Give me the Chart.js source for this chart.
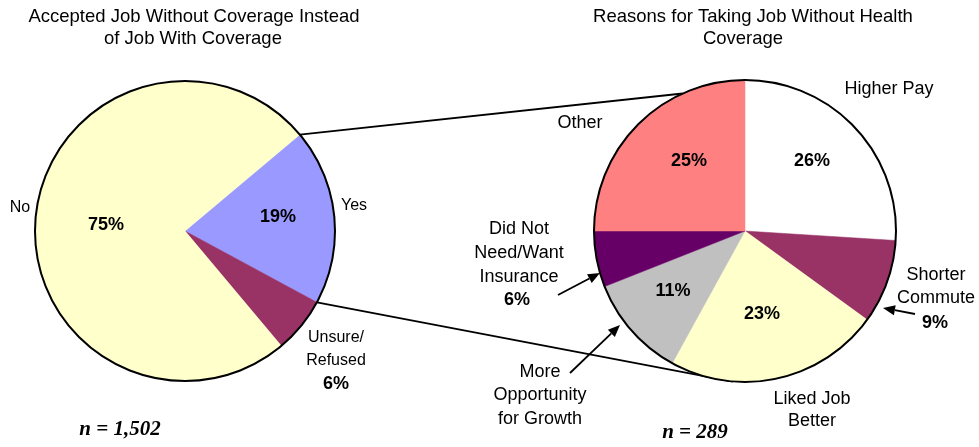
<!DOCTYPE html>
<html>
<head>
<meta charset="utf-8">
<script src="https://cdn.jsdelivr.net/npm/chart.js@4"></script>
<style>
  html, body { margin: 0; padding: 0; background: #ffffff; }
  #wrap { position: relative; width: 979px; height: 447px; overflow: hidden; }
  canvas { position: absolute; left: 0; top: 0; }
</style>
</head>
<body>
<div id="wrap">
  <canvas id="leftPie" width="979" height="447"></canvas>
  <canvas id="rightPie" width="979" height="447"></canvas>
</div>
<script>
// ---------------- DATA ----------------
const leftTitle = ['Accepted Job Without Coverage Instead', 'of Job With Coverage'];
const leftLabels = ['Yes', 'Unsure/Refused', 'No'];
const leftValues = [19, 6, 75];
const leftN = 'n = 1,502';

const rightTitle = ['Reasons for Taking Job Without Health', 'Coverage'];
const rightLabels = ['Higher Pay', 'Shorter Commute', 'Liked Job Better', 'More Opportunity for Growth', 'Did Not Need/Want Insurance', 'Other'];
const rightValues = [26, 9, 23, 11, 6, 25];
const rightN = 'n = 289';

// ---------------- STYLE / LAYOUT ----------------
const leftColors = ['#9999FF', '#993366', '#FFFFCC'];
const rightColors = ['#FFFFFF', '#993366', '#FFFFCC', '#C0C0C0', '#660066', '#FF8080'];

const SANS = '"Liberation Sans", Arial, sans-serif';
const SERIF = '"Liberation Serif", "Times New Roman", serif';

// percentage label positions (index-aligned with values)
const leftPctPos = [[278, 217], [336, 384], [106, 225]];
const rightPctPos = [[812, 161], [935, 323], [762, 314], [673, 291], [517, 300], [689, 161]];

// category label lines + positions
const leftCatText = [
  {lines: ['Yes'], x: 354, y: 206, lh: 23},
  {lines: ['Unsure/', 'Refused'], x: 336, y: 338, lh: 23},
  {lines: ['No'], x: 20, y: 208, lh: 23}
];
const rightCatText = [
  {lines: ['Higher Pay'], x: 889, y: 89, lh: 23},
  {lines: ['Shorter', 'Commute'], x: 936, y: 275, lh: 23},
  {lines: ['Liked Job', 'Better'], x: 812, y: 399, lh: 22},
  {lines: ['More', 'Opportunity', 'for Growth'], x: 540, y: 372, lh: 23.5},
  {lines: ['Did Not', 'Need/Want', 'Insurance'], x: 519, y: 229, lh: 24},
  {lines: ['Other'], x: 580, y: 123, lh: 23}
];

const arrows = [
  {from: [558, 295], to: [600, 273]},
  {from: [570, 373], to: [620, 325]},
  {from: [915, 314], to: [883, 308]}
];

// right-pie angles (screen degrees) where the connector lines meet it
const connectorEndAngles = [-114.4, 94.6];

// ---------------- PLUGINS ----------------
const outlinePlugin = {
  id: 'outline',
  afterDatasetsDraw(chart) {
    const arc = chart.getDatasetMeta(0).data[0];
    if (!arc) return;
    const ctx = chart.ctx;
    ctx.save();
    ctx.beginPath();
    ctx.arc(arc.x, arc.y, arc.outerRadius, 0, Math.PI * 2);
    ctx.lineWidth = 2;
    ctx.strokeStyle = '#000';
    ctx.stroke();
    ctx.restore();
  }
};

let leftChart = null;

function drawArrow(ctx, a) {
  const [x1, y1] = a.from, [x2, y2] = a.to;
  const ang = Math.atan2(y2 - y1, x2 - x1);
  const hl = 12, hw = 5;
  const bx = x2 - hl * Math.cos(ang), by = y2 - hl * Math.sin(ang);
  ctx.beginPath();
  ctx.moveTo(x1, y1);
  ctx.lineTo(bx, by);
  ctx.lineWidth = 1.8;
  ctx.strokeStyle = '#000';
  ctx.stroke();
  ctx.beginPath();
  ctx.moveTo(x2, y2);
  ctx.lineTo(bx + hw * Math.sin(ang), by - hw * Math.cos(ang));
  ctx.lineTo(bx - hw * Math.sin(ang), by + hw * Math.cos(ang));
  ctx.closePath();
  ctx.fillStyle = '#000';
  ctx.fill();
}

const decorPlugin = {
  id: 'decor',
  beforeDatasetsDraw(chart) {
    // connector lines from the "Yes" slice to the breakdown pie
    if (!leftChart) return;
    const yesArc = leftChart.getDatasetMeta(0).data[0];
    const rArc = chart.getDatasetMeta(0).data[0];
    const ctx = chart.ctx;
    const starts = [yesArc.startAngle, yesArc.endAngle];
    ctx.save();
    ctx.lineWidth = 1.8;
    ctx.strokeStyle = '#000';
    for (let i = 0; i < 2; i++) {
      const sx = yesArc.x + yesArc.outerRadius * Math.cos(starts[i]);
      const sy = yesArc.y + yesArc.outerRadius * Math.sin(starts[i]);
      const ea = connectorEndAngles[i] * Math.PI / 180;
      const ex = rArc.x + rArc.outerRadius * Math.cos(ea);
      const ey = rArc.y + rArc.outerRadius * Math.sin(ea);
      ctx.beginPath();
      ctx.moveTo(sx, sy);
      ctx.lineTo(ex, ey);
      ctx.stroke();
    }
    ctx.restore();
  },
  afterDraw(chart) {
    const ctx = chart.ctx;
    ctx.save();
    ctx.fillStyle = '#000';
    ctx.textAlign = 'center';
    ctx.textBaseline = 'middle';

    // titles
    ctx.font = '18.5px ' + SANS;
    ctx.fillText(leftTitle[0], 194, 17);
    ctx.fillText(leftTitle[1], 193, 39);
    ctx.fillText(rightTitle[0], 753, 17);
    ctx.fillText(rightTitle[1], 743, 39);

    // category labels
    ctx.font = '16px ' + SANS;
    leftCatText.forEach(t => t.lines.forEach((l, j) => ctx.fillText(l, t.x, t.y + j * t.lh)));
    ctx.font = '18px ' + SANS;
    rightCatText.forEach(t => t.lines.forEach((l, j) => ctx.fillText(l, t.x, t.y + j * t.lh)));

    // percentages
    ctx.font = 'bold 18px ' + SANS;
    leftValues.forEach((v, i) => ctx.fillText(v + '%', leftPctPos[i][0], leftPctPos[i][1]));
    rightValues.forEach((v, i) => ctx.fillText(v + '%', rightPctPos[i][0], rightPctPos[i][1]));

    // sample sizes
    ctx.font = 'italic bold 21px ' + SERIF;
    ctx.fillText(leftN, 120, 430);
    ctx.fillText(rightN, 695, 433);

    // arrows
    arrows.forEach(a => drawArrow(ctx, a));
    ctx.restore();
  }
};

// ---------------- CHARTS ----------------
const commonOpts = {
  responsive: false,
  animation: false,
  events: [],
  plugins: { legend: { display: false }, tooltip: { enabled: false }, title: { display: false } }
};

leftChart = new Chart(document.getElementById('leftPie'), {
  type: 'pie',
  data: {
    labels: leftLabels,
    datasets: [{ data: leftValues, backgroundColor: leftColors, borderColor: leftColors, borderWidth: 0.5 }]
  },
  options: Object.assign({}, commonOpts, {
    rotation: 50,
    radius: 150,
    layout: { padding: { left: 35, right: 979 - 335, top: 81, bottom: 447 - 381 } }
  }),
  plugins: [outlinePlugin]
});

new Chart(document.getElementById('rightPie'), {
  type: 'pie',
  data: {
    labels: rightLabels,
    datasets: [{ data: rightValues, backgroundColor: rightColors, borderColor: rightColors, borderWidth: 0.5 }]
  },
  options: Object.assign({}, commonOpts, {
    rotation: 0,
    radius: 151,
    layout: { padding: { left: 594, right: 979 - 896, top: 80, bottom: 447 - 382 } }
  }),
  plugins: [decorPlugin, outlinePlugin]
});
</script>
</body>
</html>
